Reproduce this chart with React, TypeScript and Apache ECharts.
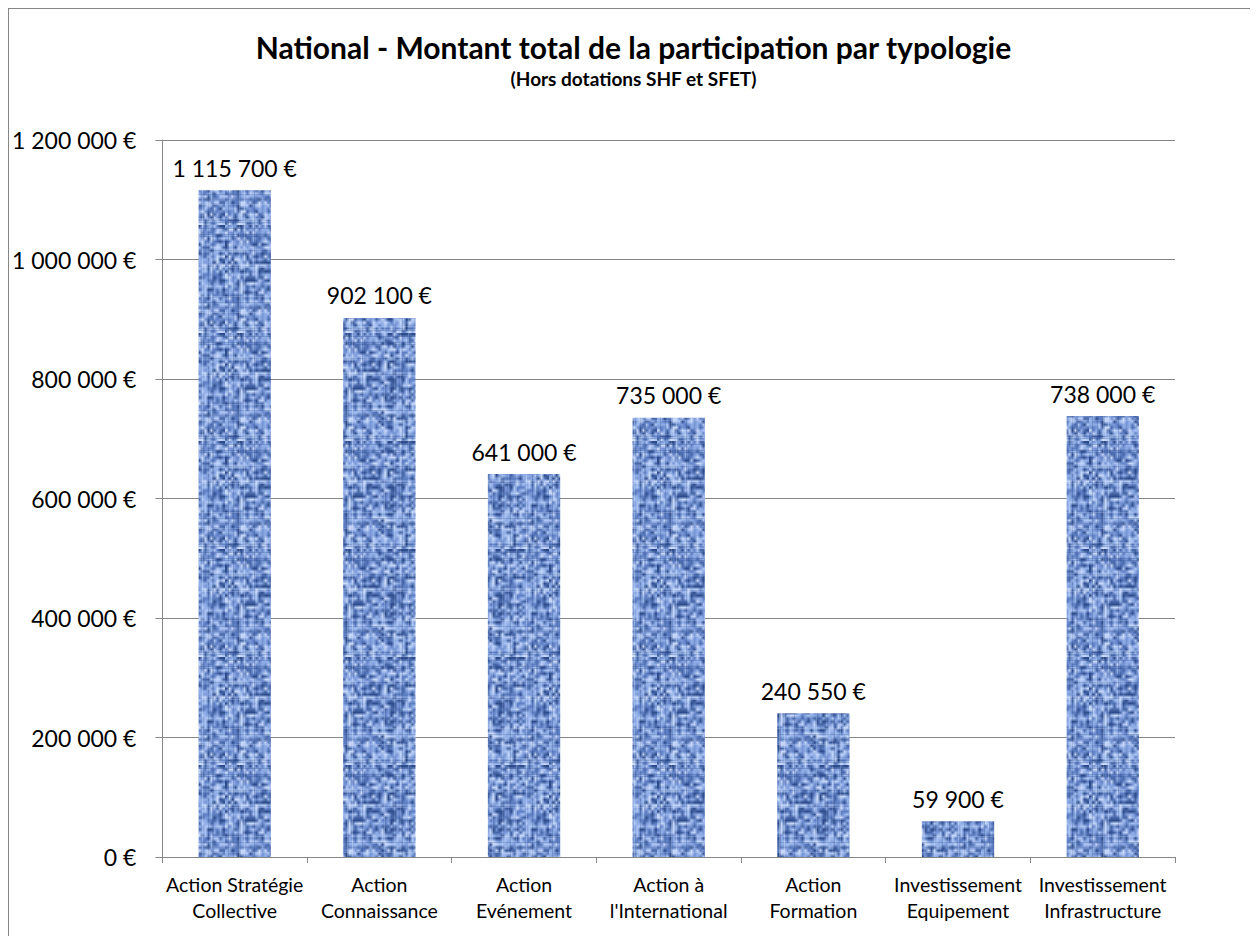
import React, { useEffect, useRef } from "react";
import * as echarts from "echarts";

const categories = [
  "Action Stratégie\nCollective",
  "Action\nConnaissance",
  "Action\nEvénement",
  "Action à\nl'International",
  "Action\nFormation",
  "Investissement\nEquipement",
  "Investissement\nInfrastructure",
];
const values = [1115700, 902100, 641000, 735000, 240550, 59900, 738000];
const yMin = 0;
const yMax = 1200000;
const yInterval = 200000;

const FONT = "Lato, 'Noto Sans', sans-serif";

function fmt(v: number): string {
  const s = Math.round(v).toString().replace(/\B(?=(\d{3})+(?!\d))/g, " ");
  return s + " €";
}

function makeTexture(): HTMLCanvasElement {
  // low-res noise, then upscaled with smoothing for a soft woven look
  const small = 36;
  const s = document.createElement("canvas");
  s.width = small;
  s.height = small;
  const sctx = s.getContext("2d")!;
  let seed = 98765;
  const rnd = () => {
    seed = (seed * 1103515245 + 12345) & 0x7fffffff;
    return seed / 0x7fffffff;
  };
  const colors = ["#2e4c8c", "#4767a8", "#5e7fc4", "#7896d6", "#90aee6", "#abc4f3", "#c6d8f9"];
  for (let y = 0; y < small; y++) {
    for (let x = 0; x < small; x++) {
      const r = rnd();
      const rowBias = y % 3 === 0 ? -0.12 : 0;
      const colBias = x % 4 === 1 ? 0.12 : 0;
      const t = Math.min(0.999, Math.max(0, r * 0.9 + 0.05 + rowBias + colBias));
      sctx.fillStyle = colors[Math.floor(t * colors.length)];
      sctx.fillRect(x, y, 1, 1);
    }
  }
  const size = 108;
  const c = document.createElement("canvas");
  c.width = size;
  c.height = size;
  const ctx = c.getContext("2d")!;
  ctx.imageSmoothingEnabled = true;
  ctx.drawImage(s, 0, 0, size, size);
  ctx.globalAlpha = 0.22;
  for (let i = 0; i < 16; i++) {
    const x = Math.floor(rnd() * size);
    ctx.fillStyle = rnd() > 0.5 ? "#d0e0fb" : "#22407c";
    ctx.fillRect(x, 0, 1, size);
    const y = Math.floor(rnd() * size);
    ctx.fillStyle = rnd() > 0.5 ? "#d0e0fb" : "#22407c";
    ctx.fillRect(0, y, size, 1);
  }
  ctx.globalAlpha = 1;
  return c;
}

export default function App() {
  const ref = useRef<HTMLDivElement>(null);
  useEffect(() => {
    if (!ref.current) return;
    const chart = echarts.init(ref.current, undefined, { renderer: "svg" });
    const tex = makeTexture();
    const option: any = {
      animation: false,
      backgroundColor: "#ffffff",
      title: {
        text: "National - Montant total de la participation par typologie",
        subtext: "(Hors dotations SHF et SFET)",
        left: "center",
        top: 18,
        itemGap: 7,
        textStyle: { fontFamily: FONT, fontWeight: "bold", fontSize: 30, color: "#000" },
        subtextStyle: { fontFamily: FONT, fontWeight: "bold", fontSize: 19, color: "#000" },
      },
      grid: { left: 152, right: 83, top: 131, bottom: 79, containLabel: false },
      xAxis: {
        type: "category",
        data: categories,
        axisLine: { lineStyle: { color: "#868686", width: 1 } },
        axisTick: { show: true, length: 6, alignWithLabel: false, lineStyle: { color: "#868686" } },
        axisLabel: {
          interval: 0,
          margin: 14,
          fontFamily: FONT,
          fontSize: 19.5,
          lineHeight: 26,
          color: "#000",
        },
      },
      yAxis: {
        type: "value",
        min: yMin,
        max: yMax,
        interval: yInterval,
        axisLine: { show: true, lineStyle: { color: "#868686", width: 1 } },
        axisTick: { show: true, length: 7, lineStyle: { color: "#868686" } },
        splitLine: { show: true, lineStyle: { color: "#868686", width: 1 } },
        axisLabel: {
          margin: 26,
          fontFamily: FONT,
          fontSize: 23,
          color: "#000",
          formatter: (v: number) => fmt(v),
        },
      },
      series: [
        {
          type: "bar",
          data: values,
          barWidth: "50%",
          itemStyle: {
            color: { image: tex, repeat: "repeat", imageWidth: 108, imageHeight: 108 },
          },
          label: {
            show: true,
            position: "top",
            distance: 11,
            fontFamily: FONT,
            fontSize: 23,
            color: "#000",
            formatter: (p: any) => fmt(p.value),
          },
        },
      ],
    };
    chart.setOption(option);
    return () => chart.dispose();
  }, []);
  return (
    <div
      style={{
        width: 1250,
        height: 928,
        borderLeft: "1px solid #868686",
        borderTop: "1px solid #868686",
        boxSizing: "border-box",
        overflow: "hidden",
      }}
    >
      <div ref={ref} style={{ width: 1249, height: 927 }} />
    </div>
  );
}
